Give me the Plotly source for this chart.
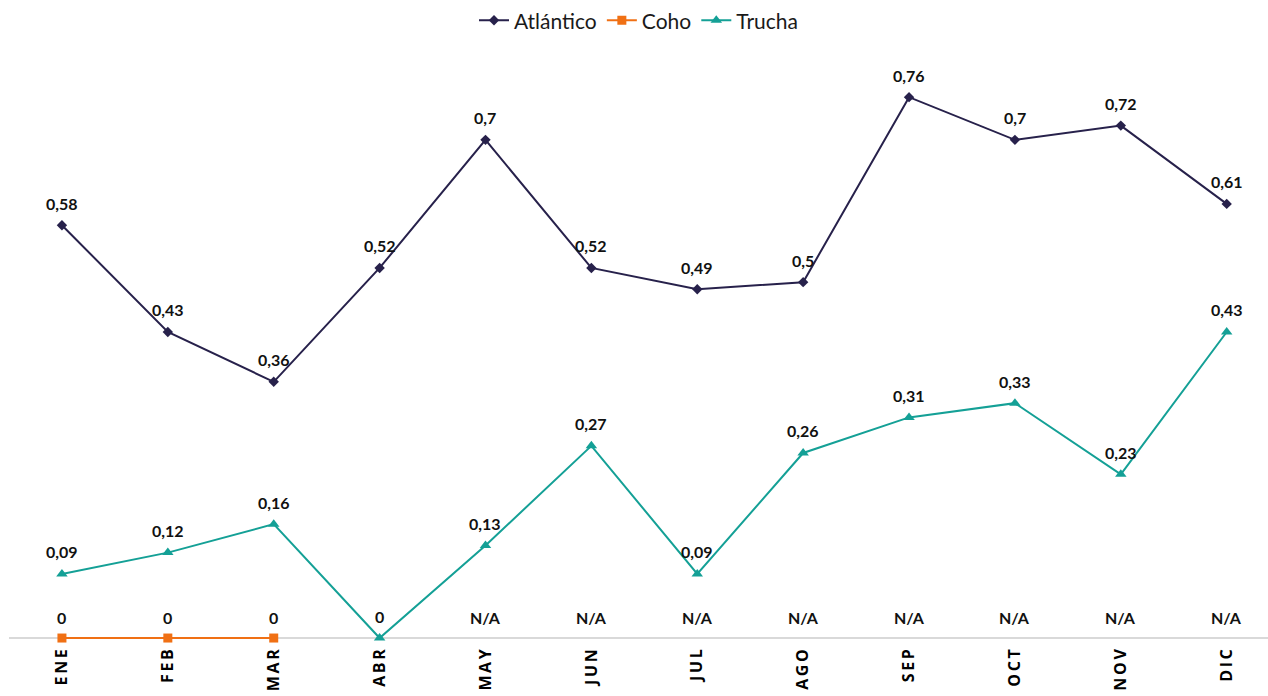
import plotly.graph_objects as go

# Monthly values per species
meses = ["ENE", "FEB", "MAR", "ABR", "MAY", "JUN", "JUL", "AGO", "SEP", "OCT", "NOV", "DIC"]
atlantico = [0.58, 0.43, 0.36, 0.52, 0.70, 0.52, 0.49, 0.50, 0.76, 0.70, 0.72, 0.61]
coho = [0, 0, 0, None, None, None, None, None, None, None, None, None]
coho_labels = ["0", "0", "0", "", "N/A", "N/A", "N/A", "N/A", "N/A", "N/A", "N/A", "N/A"]
trucha = [0.09, 0.12, 0.16, 0.00, 0.13, 0.27, 0.09, 0.26, 0.31, 0.33, 0.23, 0.43]

C_ATL = "#27214b"
C_COHO = "#f07014"
C_TRU = "#14a096"


def fmt(v):
    s = f"{v:.2f}".rstrip("0").rstrip(".")
    return s.replace(".", ",")


fig = go.Figure()
fig.add_trace(go.Scatter(
    x=meses, y=atlantico, name="Atlántico", mode="lines+markers",
    line=dict(color=C_ATL, width=2), marker=dict(symbol="diamond", size=8, color=C_ATL),
))
fig.add_trace(go.Scatter(
    x=meses, y=coho, name="Coho", mode="lines+markers",
    line=dict(color=C_COHO, width=2), marker=dict(symbol="square", size=9, color=C_COHO),
))
fig.add_trace(go.Scatter(
    x=meses, y=trucha, name="Trucha", mode="lines+markers",
    line=dict(color=C_TRU, width=2), marker=dict(symbol="triangle-up", size=10, color=C_TRU),
))

label_font = dict(family="Lato, 'Open Sans', sans-serif", size=16, color="#111111")
annotations = []
for serie in (atlantico, trucha):
    for m, v in zip(meses, serie):
        annotations.append(dict(x=m, y=v, text=f"<b>{fmt(v)}</b>", showarrow=False,
                                yshift=22, font=label_font))
for m, t in zip(meses, coho_labels):
    if t:
        annotations.append(dict(x=m, y=0, text=f"<b>{t}</b>", showarrow=False,
                                yshift=21, font=label_font))

fig.update_layout(
    width=1268, height=696,
    margin=dict(l=9, r=0, t=50, b=51),
    paper_bgcolor="white", plot_bgcolor="white",
    showlegend=True,
    legend=dict(orientation="h", x=0.5, xanchor="center", y=1.02, yanchor="bottom",
                font=dict(family="Lato, 'Noto Sans', sans-serif", size=21, color="#1a1a1a"),
                itemwidth=30, traceorder="normal"),
    xaxis=dict(type="category", categoryorder="array", categoryarray=meses,
               range=[-0.5, 11.39], showgrid=False, showline=False, zeroline=False,
               ticks="", tickangle=-90,
               tickfont=dict(family="'Open Sans', sans-serif", size=16, color="#000000"),
               tickvals=meses, ticktext=[f"<b>{'&#8201;'.join(m)}</b>" for m in meses]),
    yaxis=dict(range=[-0.0098, 0.822], visible=True, showgrid=False, showticklabels=False,
               showline=False, ticks="", zeroline=True, zerolinecolor="#d9d9d9",
               zerolinewidth=1.5),
    annotations=annotations,
)

fig.write_html("out.html")
